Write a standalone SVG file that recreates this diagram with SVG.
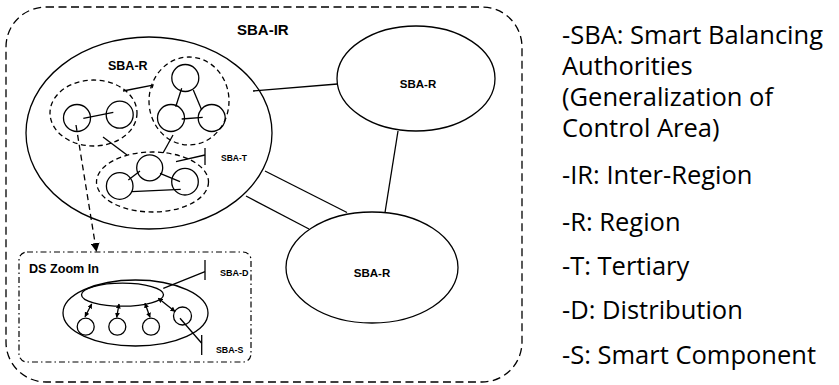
<svg xmlns="http://www.w3.org/2000/svg" width="839" height="385" viewBox="0 0 839 385">
<defs>
<style>
.s{fill:none;stroke:#000;stroke-width:1.3}
.d{fill:none;stroke:#000;stroke-width:1.3;stroke-dasharray:5 3.5}
.lb{font-family:"Liberation Sans",Arial,sans-serif;font-weight:bold;fill:#000}
.lg{font-family:"Open Sans","Liberation Sans",sans-serif;font-size:25.5px;fill:#000}
</style>
<marker id="ah" viewBox="0 0 10 10" refX="9" refY="5" markerWidth="5" markerHeight="5" orient="auto-start-reverse" markerUnits="userSpaceOnUse">
<path d="M0,0 L10,5 L0,10 z" fill="#000"/>
</marker>
<marker id="big" viewBox="0 0 10 10" refX="10" refY="5" markerWidth="9" markerHeight="9" orient="auto" markerUnits="userSpaceOnUse">
<path d="M0,0 L10,5 L0,10 z" fill="#000"/>
</marker>
</defs>
<rect id="sba-ir" x="6" y="7" width="516" height="375" rx="40" fill="none" stroke="#000" stroke-width="1.3" stroke-dasharray="8 4.5"/>
<text class="lb" x="237" y="35" font-size="15">SBA-IR</text>

<g id="sba-r-left">
<ellipse class="s" cx="149" cy="133" rx="123" ry="96"/>
<text class="lb" x="108" y="70" font-size="12.5">SBA-R</text>
</g>
<g id="tier-pair">
<ellipse class="d" cx="93.5" cy="113" rx="43.5" ry="33"/>
<circle class="s" cx="77" cy="118" r="13.5"/>
<circle class="s" cx="119.7" cy="114.7" r="13.5"/>
</g>
<g id="tier-triangle">
<ellipse class="d" cx="189" cy="101" rx="40" ry="44"/>
<circle class="s" cx="185.3" cy="78" r="13.5"/>
<circle class="s" cx="171" cy="118" r="13.5"/>
<circle class="s" cx="211.7" cy="118" r="13.5"/>
</g>
<g id="sba-t">
<ellipse class="d" cx="152.5" cy="182" rx="56" ry="30"/>
<circle class="s" cx="149.7" cy="167.8" r="13"/>
<circle class="s" cx="119.7" cy="186" r="13.3"/>
<circle class="s" cx="185" cy="181.7" r="13.3"/>
<text class="lb" x="221" y="161.3" font-size="8.5">SBA-T</text>
</g>
<g id="sba-r-top">
<ellipse class="s" cx="416" cy="78.5" rx="79" ry="52.5"/>
<text class="lb" x="418" y="87.5" font-size="11.5" text-anchor="middle">SBA-R</text>
</g>
<g id="sba-r-bottom">
<ellipse class="s" cx="372" cy="267.5" rx="86" ry="55.5"/>
<text class="lb" x="372" y="277" font-size="11.5" text-anchor="middle">SBA-R</text>
</g>
<g id="ds-zoom">
<rect x="19" y="252" width="232" height="110" rx="8" fill="none" stroke="#000" stroke-width="1.2" stroke-dasharray="6 3 1.5 3"/>
<text class="lb" x="29" y="273" font-size="12.6">DS Zoom In</text>
<ellipse class="s" cx="135.5" cy="313" rx="72.5" ry="33"/>
<ellipse class="s" cx="122.5" cy="294.7" rx="41" ry="11.5"/>
<circle class="s" cx="85.7" cy="326.7" r="8.5"/>
<circle class="s" cx="117.3" cy="326.7" r="8.5"/>
<circle class="s" cx="151" cy="326.7" r="8.5"/>
<circle class="s" cx="182.5" cy="316" r="9"/>
<text class="lb" x="220" y="276" font-size="9">SBA-D</text>
<text class="lb" x="216" y="352.7" font-size="8.8">SBA-S</text>
</g>

<g id="connectors" class="s">
<line x1="253" y1="91" x2="337.5" y2="84"/>
<line x1="398" y1="131" x2="385" y2="212.5"/>
<line x1="265" y1="171" x2="347" y2="212.5"/>
<line x1="246" y1="196" x2="309" y2="229"/>
<line x1="83.3" y1="118.3" x2="113.3" y2="112.3"/>
<line x1="181.7" y1="88.3" x2="175.7" y2="106.7"/>
<line x1="193.3" y1="90" x2="201.7" y2="110"/>
<line x1="181.7" y1="119" x2="202.7" y2="117.3"/>
<line x1="128.3" y1="180" x2="140" y2="171"/>
<line x1="160" y1="173.3" x2="180" y2="181.7"/>
<line x1="131.7" y1="191.7" x2="180.7" y2="189.3"/>
<polyline points="123,91 153,85 152,88"/>
<line x1="103" y1="137" x2="127" y2="155"/>
<line x1="173" y1="135" x2="163" y2="153"/>
<line x1="176" y1="161.7" x2="205" y2="155"/>
<line x1="205" y1="148" x2="205" y2="165"/>
<line x1="76" y1="125" x2="96.5" y2="252" stroke-dasharray="6 4" marker-end="url(#big)"/>
<line x1="91.7" y1="304" x2="85" y2="316.7" marker-start="url(#ah)" marker-end="url(#ah)"/>
<line x1="119" y1="304" x2="116.7" y2="317.3" marker-start="url(#ah)" marker-end="url(#ah)"/>
<line x1="145" y1="303.3" x2="150" y2="317.3" marker-start="url(#ah)" marker-end="url(#ah)"/>
<line x1="158.3" y1="298.3" x2="175" y2="311.5" marker-start="url(#ah)" marker-end="url(#ah)"/>
<line x1="163.3" y1="288.3" x2="205" y2="271.7"/>
<line x1="205" y1="260" x2="205" y2="280"/>
<line x1="180" y1="318.3" x2="201.7" y2="343.3"/>
<line x1="201.7" y1="335" x2="201.7" y2="355"/>
</g>

<g id="legend" class="lg">
<text x="562" y="44">-SBA: Smart Balancing</text>
<text x="562" y="75">Authorities</text>
<text x="562" y="106">(Generalization of</text>
<text x="562" y="137">Control Area)</text>
<text x="562" y="184">-IR: Inter-Region</text>
<text x="562" y="231">-R: Region</text>
<text x="562" y="275">-T: Tertiary</text>
<text x="562" y="319">-D: Distribution</text>
<text x="562" y="364">-S: Smart Component</text>
</g>
</svg>
